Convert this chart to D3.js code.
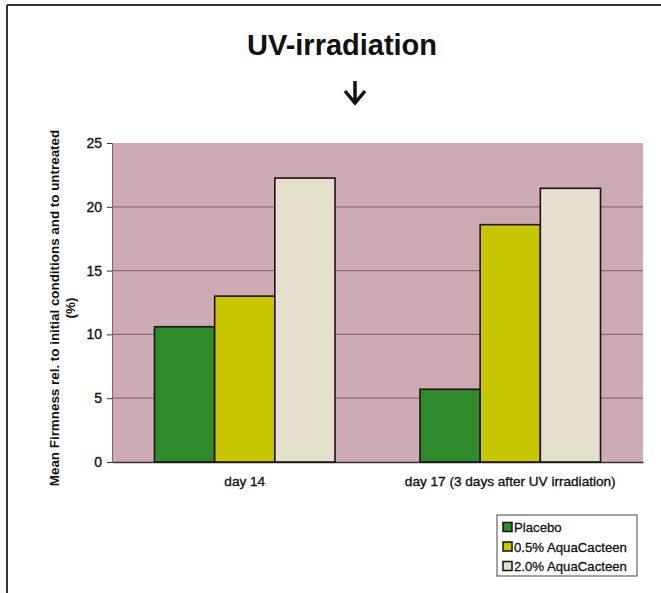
<!DOCTYPE html>
<html>
<head>
<meta charset="utf-8">
<script src="https://cdn.jsdelivr.net/npm/d3@7/dist/d3.min.js"></script>
<style>
  html, body { margin: 0; padding: 0; background: #ffffff; }
  svg { display: block; font-family: "Liberation Sans", Arial, sans-serif; }
</style>
</head>
<body>
<svg id="chart" width="661" height="593"></svg>
<script>
const categories = ["day 14", "day 17 (3 days after UV irradiation)"];
const seriesNames = ["Placebo", "0.5% AquaCacteen", "2.0% AquaCacteen"];
const placebo = [10.6, 5.7];
const aqua05 = [13.0, 18.6];
const aqua20 = [22.25, 21.45];
const yTicks = [0, 5, 10, 15, 20, 25];
const seriesColors = ["#2f8a2c", "#c8c600", "#e4e0cd"];

const seriesValues = [placebo, aqua05, aqua20];

const svg = d3.select("#chart");

// frame lines
svg.append("line").attr("x1", 7).attr("x2", 661).attr("y1", 5).attr("y2", 5)
  .attr("stroke", "#333").attr("stroke-width", 2);
svg.append("line").attr("x1", 7).attr("x2", 7).attr("y1", 5).attr("y2", 593)
  .attr("stroke", "#333").attr("stroke-width", 2);

const plot = { left: 112, right: 643, top: 143, bottom: 462 };

const x0 = d3.scaleBand().domain(categories).range([plot.left, plot.right])
  .paddingInner(0.32).paddingOuter(0.16);
const x1 = d3.scaleBand().domain(seriesNames).range([0, x0.bandwidth()]).padding(0);
const y = d3.scaleLinear().domain([0, 25]).range([plot.bottom, plot.top]);

// plot background
svg.append("rect").attr("x", plot.left).attr("y", plot.top)
  .attr("width", plot.right - plot.left).attr("height", plot.bottom - plot.top)
  .attr("fill", "#cdaab4");

// gridlines
svg.append("g").selectAll("line").data(yTicks.filter(d => d > 0 && d < 25)).join("line")
  .attr("x1", plot.left).attr("x2", plot.right)
  .attr("y1", d => y(d)).attr("y2", d => y(d))
  .attr("stroke", "#8a6c78").attr("stroke-width", 1.2);

// y axis
const yAxis = svg.append("g").attr("transform", `translate(${plot.left},0)`)
  .call(d3.axisLeft(y).tickValues(yTicks).tickSize(5).tickPadding(5));
yAxis.select(".domain").attr("stroke", "#7a6a70").attr("stroke-width", 1);
yAxis.selectAll(".tick line").attr("stroke", "#333");
yAxis.selectAll("text").attr("font-size", 14).attr("fill", "#111")
  .attr("stroke", "#111").attr("stroke-width", 0.35)
  .attr("font-family", "Liberation Sans, Arial, sans-serif");

// x axis
const xAxis = svg.append("g").attr("transform", `translate(0,${plot.bottom})`)
  .call(d3.axisBottom(x0).tickSize(0).tickPadding(14));
xAxis.select(".domain").attr("stroke", "#333").attr("stroke-width", 1.5);
xAxis.selectAll("text").attr("font-size", 13.6).attr("fill", "#111")
  .attr("stroke", "#111").attr("stroke-width", 0.35)
  .attr("font-family", "Liberation Sans, Arial, sans-serif");

// bars
const groups = svg.append("g").selectAll("g").data(categories).join("g")
  .attr("transform", c => `translate(${x0(c)},0)`);
groups.selectAll("rect")
  .data((c, ci) => seriesNames.map((s, si) => ({ s, si, v: seriesValues[si][ci] })))
  .join("rect")
  .attr("x", d => x1(d.s))
  .attr("width", x1.bandwidth())
  .attr("y", d => y(d.v))
  .attr("height", d => y(0) - y(d.v))
  .attr("fill", d => seriesColors[d.si])
  .attr("stroke", "#1e1212").attr("stroke-width", 1.6);

// y-axis title
const yt = svg.append("text")
  .attr("transform", "translate(59,308) rotate(-90)")
  .attr("text-anchor", "middle").attr("font-size", 13.4).attr("font-weight", "bold").attr("fill", "#111");
yt.append("tspan").attr("x", 0).attr("dy", 0).text("Mean Firmness rel. to initial conditions and to untreated");
yt.append("tspan").attr("x", 0).attr("dy", 16).text("(%)");

// title
svg.append("text").attr("x", 342).attr("y", 55).attr("text-anchor", "middle")
  .attr("font-size", 30).attr("font-weight", "bold").attr("fill", "#111")
  .attr("textLength", 190).attr("lengthAdjust", "spacingAndGlyphs")
  .text("UV-irradiation");

// arrow
svg.append("line").attr("x1", 355).attr("x2", 355).attr("y1", 81).attr("y2", 101)
  .attr("stroke", "#111").attr("stroke-width", 3.5);
svg.append("path").attr("d", "M345,91 L355,103 L365,91")
  .attr("fill", "none").attr("stroke", "#111").attr("stroke-width", 3.5)
  .attr("stroke-linejoin", "miter");

// legend
const lg = svg.append("g").attr("transform", "translate(497,515)");
lg.append("rect").attr("x", 0).attr("y", 0).attr("width", 140).attr("height", 61)
  .attr("fill", "#fff").attr("stroke", "#444").attr("stroke-width", 1);
const items = lg.selectAll("g").data(seriesNames).join("g")
  .attr("transform", (d, i) => `translate(6,${12 + i * 19.5})`);
items.append("rect").attr("x", 0).attr("y", -4.5).attr("width", 9).attr("height", 9)
  .attr("fill", (d, i) => seriesColors[i]).attr("stroke", "#111").attr("stroke-width", 1.5);
items.append("text").attr("x", 11).attr("y", 5).attr("font-size", 13.2).attr("fill", "#111")
  .attr("stroke", "#111").attr("stroke-width", 0.3)
  .text(d => d);
</script>
</body>
</html>
